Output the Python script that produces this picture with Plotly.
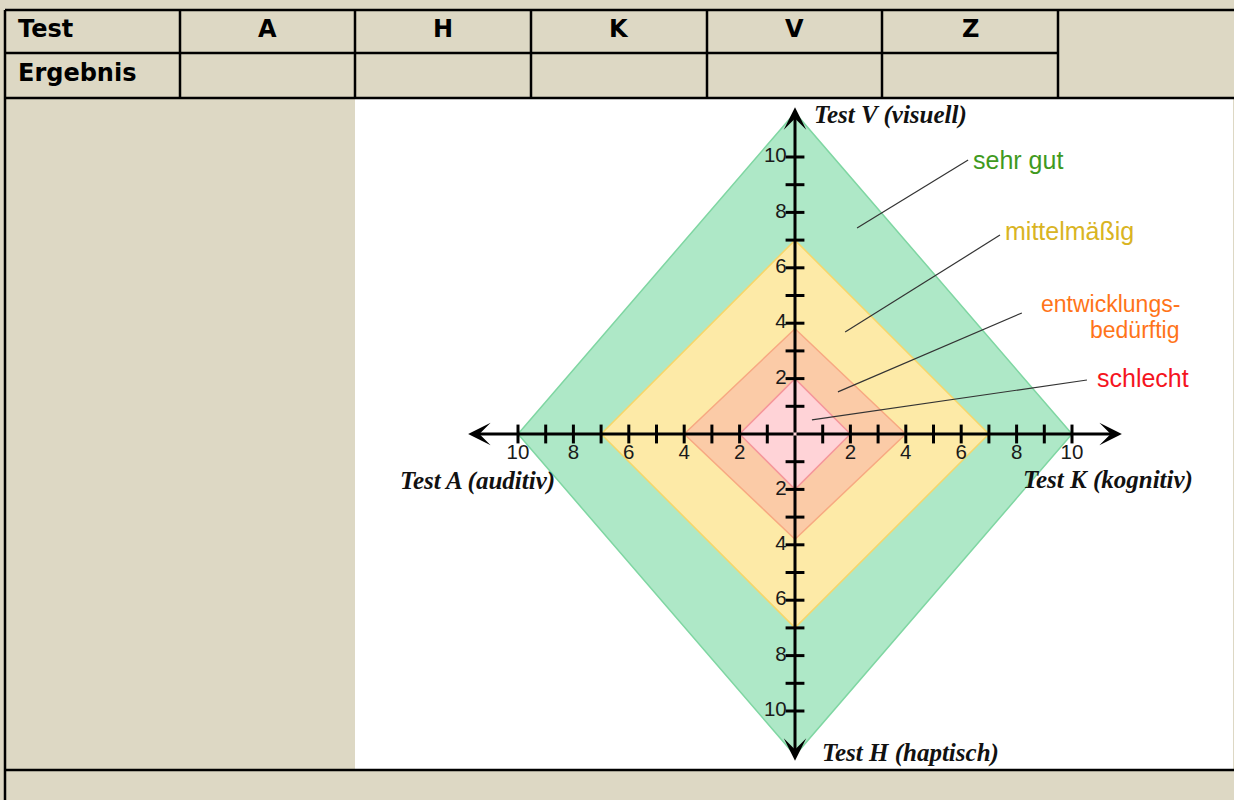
import plotly.graph_objects as go

# ---------------- data ----------------
header_row_label = "Test"
result_row_label = "Ergebnis"
test_columns = ["A", "H", "K", "V", "Z"]

axis_titles = ["Test V (visuell)", "Test K (kognitiv)", "Test H (haptisch)", "Test A (auditiv)"]

zone_names = ["sehr gut", "mittelmäßig", "entwicklungs-\nbedürftig", "schlecht"]
zone_half_width = [10, 7, 4, 2]        # extent along Test A / Test K
zone_half_height = [11.6, 7, 3.8, 2]   # extent along Test V / Test H
zone_fill = ["#AEE8C7", "#FDEAA7", "#FBCBA7", "#FFD3D7"]
zone_edge = ["#7FD6A2", "#F6D66A", "#F7A982", "#F5969B"]
zone_text_color = ["#3F9A1E", "#D9B423", "#FF7419", "#F5141E"]

tick_values = [1, 2, 3, 4, 5, 6, 7, 8, 9, 10]
tick_labels = [2, 4, 6, 8, 10]
axis_max = 11.8

# ---------------- geometry helpers (layout only) ----------------
W, H = 1234, 800
CX, CY, S = 795, 434, 27.7   # pixel centre of the chart and px per unit


def px(x):
    return x / W


def py(y):
    return 1 - y / H


BEIGE = "#DDD8C4"

fig = go.Figure()

# zones
for i in range(len(zone_names)):
    hw, hh = zone_half_width[i], zone_half_height[i]
    fig.add_trace(go.Scatter(
        x=[hw, 0, -hw, 0, hw], y=[0, hh, 0, -hh, 0],
        mode="lines", fill="toself", fillcolor=zone_fill[i],
        line=dict(color=zone_edge[i], width=1.5),
        hoverinfo="skip", showlegend=False))

# tick marks
tl = 0.34
tx, ty = [], []
for t in tick_values:
    for sgn in (1, -1):
        tx += [sgn * t, sgn * t, None]
        ty += [-tl, tl, None]
        tx += [-tl, tl, None]
        ty += [sgn * t, sgn * t, None]
fig.add_trace(go.Scatter(x=tx, y=ty, mode="lines", line=dict(color="black", width=3),
                         hoverinfo="skip", showlegend=False))

# tick labels
lab_font = dict(family="Liberation Sans, Arial", size=20.5, color="#1a1a1a")
hx, hy, ht = [], [], []
for t in tick_labels:
    for sgn in (1, -1):
        hx.append(sgn * t)
        hy.append(-0.73)
        ht.append(str(t))
fig.add_trace(go.Scatter(x=hx, y=hy, text=ht, mode="text", textfont=lab_font,
                         textposition="middle center", hoverinfo="skip", showlegend=False))
vx, vy, vt = [], [], []
for t in tick_labels:
    for sgn in (1, -1):
        vx.append(-0.3)
        vy.append(sgn * t)
        vt.append(str(t))
fig.add_trace(go.Scatter(x=vx, y=vy, text=vt, mode="text", textfont=lab_font,
                         textposition="middle left", hoverinfo="skip", showlegend=False))

annotations = []
# axis arrows
for (xt, yt) in [(axis_max, 0), (-axis_max, 0), (0, axis_max), (0, -axis_max)]:
    annotations.append(dict(x=xt, y=yt, ax=0, ay=0, xref="x", yref="y", axref="x", ayref="y",
                            text="", showarrow=True, arrowhead=3, arrowsize=1.25,
                            arrowwidth=3, arrowcolor="black"))

# axis titles
title_font = dict(family="Liberation Serif, Times New Roman", size=25, color="#111111")
title_pos = [(0.6, 11.5, "left"), (8.15, -1.66, "left"), (0.9, -11.5, "left"), (-8.6, -1.68, "right")]
for name, (xa, ya, al) in zip(axis_titles, title_pos):
    annotations.append(dict(x=xa, y=ya, xref="x", yref="y", text="<b><i>" + name + "</i></b>",
                            showarrow=False, xanchor=al, yanchor="middle", font=title_font))

# zone labels and leader lines
zone_label_pos = [(6.4, 9.9, "left"), (7.55, 7.33, "left"), (13.95, 4.22, "right"), (10.88, 2.02, "left")]
leader = [((2.24, 7.44), (6.25, 9.89)), ((1.81, 3.68), (7.40, 7.18)),
          ((1.55, 1.52), (8.19, 4.37)), ((0.61, 0.51), (10.54, 1.95))]
shapes = []
for i, name in enumerate(zone_names):
    xa, ya, al = zone_label_pos[i]
    parts = name.split("\n")
    n = len(parts)
    fs = 25 if n == 1 else 23
    step = 1.16 * fs / S
    for k, part in enumerate(parts):
        yk = ya + ((n - 1) / 2 - k) * step
        annotations.append(dict(x=xa, y=yk, xref="x", yref="y", text=part, showarrow=False,
                                xanchor=al, yanchor="middle", align=al, borderpad=0,
                                font=dict(family="Liberation Sans, Arial", size=fs,
                                          color=zone_text_color[i])))
    (x0, y0), (x1, y1) = leader[i]
    shapes.append(dict(type="line", xref="x", yref="y", x0=x0, y0=y0, x1=x1, y1=y1,
                       line=dict(color="#333333", width=1.2), layer="above"))

# ---------------- table frame ----------------
# white chart area
shapes.append(dict(type="rect", xref="paper", yref="paper", x0=px(355), x1=px(1233),
                   y0=py(770), y1=py(98), fillcolor="white", line=dict(width=0), layer="below"))

LW = 2.5
col_edges = [5, 180, 355, 531, 707, 882, 1058]
for xe in col_edges:
    shapes.append(dict(type="line", xref="paper", yref="paper", x0=px(xe), x1=px(xe),
                       y0=py(10), y1=py(98), line=dict(color="black", width=LW)))
shapes.append(dict(type="line", xref="paper", yref="paper", x0=px(5), x1=px(5),
                   y0=py(98), y1=py(800), line=dict(color="black", width=LW)))
for ye, xa, xb in [(10, 5, 1234), (53, 5, 1058), (98, 5, 1234), (770, 5, 1234)]:
    shapes.append(dict(type="line", xref="paper", yref="paper", x0=px(xa), x1=px(xb),
                       y0=py(ye), y1=py(ye), line=dict(color="black", width=LW)))

head_font = dict(family="DejaVu Sans", size=24, color="black")
annotations.append(dict(x=px(16), y=py(29), xref="paper", yref="paper", text="<b>" + header_row_label + "</b>",
                        showarrow=False, xanchor="left", yanchor="middle", font=head_font))
annotations.append(dict(x=px(16), y=py(73), xref="paper", yref="paper", text="<b>" + result_row_label + "</b>",
                        showarrow=False, xanchor="left", yanchor="middle", font=head_font))
for j, c in enumerate(test_columns):
    xc = (col_edges[j + 1] + col_edges[j + 2]) / 2
    annotations.append(dict(x=px(xc), y=py(29), xref="paper", yref="paper", text="<b>" + c + "</b>",
                            showarrow=False, xanchor="center", yanchor="middle", font=head_font))

fig.update_layout(
    width=W, height=H, margin=dict(l=0, r=0, t=0, b=0),
    paper_bgcolor=BEIGE, plot_bgcolor="rgba(0,0,0,0)",
    xaxis=dict(range=[(0 - CX) / S, (W - CX) / S], visible=False, fixedrange=True),
    yaxis=dict(range=[(CY - H) / S, CY / S], visible=False, fixedrange=True),
    shapes=shapes, annotations=annotations, showlegend=False,
)

fig.write_html("out.html", config={"displayModeBar": False},
               post_script="document.body.style.margin='0';document.body.style.overflow='hidden';")
